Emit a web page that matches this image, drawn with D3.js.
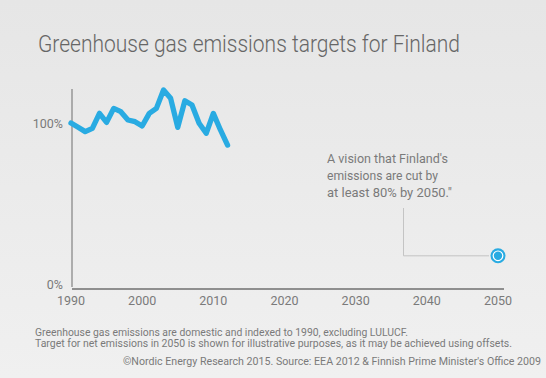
<!DOCTYPE html>
<html><head><meta charset="utf-8">
<script src="https://cdn.jsdelivr.net/npm/d3@7"></script>
<style>
html,body{margin:0;padding:0;}
svg{display:block;}
text{font-family:"Roboto","Open Sans",sans-serif;}
</style></head>
<body>
<svg id="c" width="546" height="378"></svg>
<script>
const years = [1990,1991,1992,1993,1994,1995,1996,1997,1998,1999,2000,2001,2002,2003,2004,2005,2006,2007,2008,2009,2010,2011,2012];
const emissions = [100,97.4,94.8,96.8,105.8,100.4,108.8,106.8,101.8,100.8,98.2,105.8,108.8,119.9,114.9,97.4,113.4,110.8,99.8,93.8,105.8,95.8,86.7];
const targetYear = [2050];
const targetValue = [20];
const xTicks = [1990,2000,2010,2020,2030,2040,2050];
const yTicks = [0,100];
const yTickLabels = ["0%","100%"];
const annotationLines = ["A vision that Finland's","emissions are cut by","at least 80% by 2050.\""];
const annotationWidths = [121,111,125];
const footnotes = ["Greenhouse gas emissions are domestic and indexed to 1990, excluding LULUCF.",
  "Target for net emissions in 2050 is shown for illustrative purposes, as it may be achieved using offsets."];
const footnoteWidths = [373,477];
const credit = "\u00A9Nordic Energy Research 2015. Source: EEA 2012 & Finnish Prime Minister's Office 2009";
const title = "Greenhouse gas emissions targets for Finland";

const svg = d3.select("#c");
const defs = svg.append("defs");
const g = defs.append("linearGradient").attr("id","bg").attr("x1",0).attr("y1",0).attr("x2",0).attr("y2",1);
g.append("stop").attr("offset","0%").attr("stop-color","#e6e6e6");
g.append("stop").attr("offset","100%").attr("stop-color","#f0f0f0");
svg.append("rect").attr("width",546).attr("height",378).attr("fill","url(#bg)");

const x = d3.scaleLinear().domain([1990,2050]).range([71,498]);
const y = d3.scaleLinear().domain([0,100]).range([289,123]);
const grey = "#7a7a7a";

svg.append("text").attr("x",38).attr("y",52).attr("font-size",23).attr("font-weight",300).attr("fill","#666")
  .attr("textLength",422).attr("lengthAdjust","spacingAndGlyphs").text(title);

// axes lines
svg.append("line").attr("x1",72).attr("x2",72).attr("y1",89).attr("y2",287)
  .attr("stroke","#8a8a8a").attr("stroke-width",1.3);
svg.append("line").attr("x1",72).attr("x2",504).attr("y1",289).attr("y2",289)
  .attr("stroke","#6f6f6f").attr("stroke-width",1.3);

// x tick labels
svg.append("g").selectAll("text").data(xTicks).join("text")
  .attr("x",d=>x(d)).attr("y",305).attr("text-anchor","middle")
  .attr("font-size",12.5).attr("fill",grey).text(d=>d);
// y tick labels
svg.append("g").selectAll("text").data(yTicks).join("text")
  .attr("x",63).attr("y",(d,i)=>y(d)+(i===0?0:4.5)).attr("text-anchor","end")
  .attr("font-size",12.5).attr("fill",grey).text((d,i)=>yTickLabels[i]);

// line
const line = d3.line().x((d,i)=>x(years[i])).y(d=>y(d));
svg.append("path").datum(emissions).attr("d",line).attr("fill","none")
  .attr("stroke","#29abe2").attr("stroke-width",5.3).attr("stroke-linejoin","round").attr("stroke-linecap","round");

// annotation
const tx = x(targetYear[0]), ty = y(targetValue[0]);
svg.append("path").attr("d",`M403.5,208 V${ty} H${tx-9}`).attr("fill","none").attr("stroke","#c4c4c4").attr("stroke-width",1);
svg.append("g").selectAll("text").data(annotationLines).join("text")
  .attr("x",327).attr("y",(d,i)=>163+i*17).attr("font-size",13.3).attr("fill",grey)
  .attr("textLength",(d,i)=>annotationWidths[i]).attr("lengthAdjust","spacingAndGlyphs").text(d=>d);

// target point
svg.append("circle").attr("cx",tx).attr("cy",ty).attr("r",7.5).attr("fill","#29abe2");
svg.append("circle").attr("cx",tx).attr("cy",ty).attr("r",4.8).attr("fill","none").attr("stroke","#ffffff").attr("stroke-width",1.2);

// footnotes
svg.append("g").selectAll("text").data(footnotes).join("text")
  .attr("x",35).attr("y",(d,i)=>335.5+i*11).attr("font-size",10).attr("fill",grey)
  .attr("textLength",(d,i)=>footnoteWidths[i]).attr("lengthAdjust","spacingAndGlyphs").text(d=>d);
svg.append("text").attr("x",123).attr("y",364.5)
  .attr("font-size",10.3).attr("fill",grey)
  .attr("textLength",418).attr("lengthAdjust","spacingAndGlyphs").text(credit);
</script>
</body></html>
